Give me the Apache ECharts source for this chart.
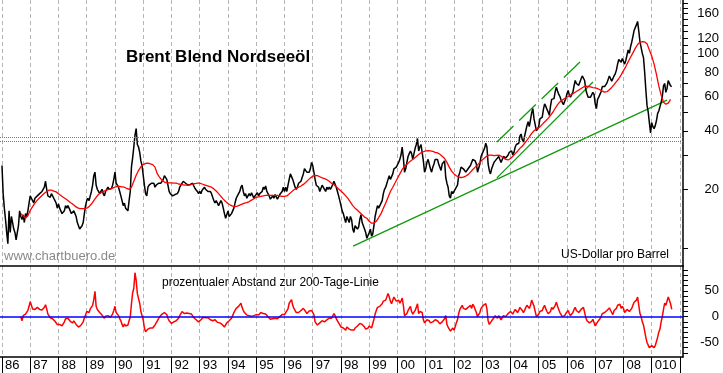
<!DOCTYPE html>
<html><head><meta charset="utf-8">
<script src="https://cdn.jsdelivr.net/npm/echarts@6/dist/echarts.min.js"></script>
<style>html,body{margin:0;padding:0;background:#fff}#c{width:723px;height:373px}</style>
</head><body><div id="c"></div>
<script>
// ---- tick labels ----
const yearTicks = [1986,1987,1988,1989,1990,1991,1992,1993,1994,1995,1996,1997,1998,1999,2000,2001,2002,2003,2004,2005,2006,2007,2008,2009,2010];
const yearLabelYears = [1986,1987,1988,1989,1990,1991,1992,1993,1994,1995,1996,1997,1998,1999,2000,2001,2002,2003,2004,2005,2006,2007,2008,2009];
const yearLabels = ['86','87','88','89','90','91','92','93','94','95','96','97','98','99','00','01','02','03','04','05','06','07','08','010'];
const priceTickValues = [10,20,30,40,50,60,70,80,90,100,110,120,130,140,150,160,170,180];
const priceLabelValues = [20,40,60,80,100,120,160];
const oscTickValues = [-70,-60,-50,-40,-30,-20,-10,0,10,20,30,40,50,60,70,80,90];
const oscLabelValues = [-50,0,50];

// ---- Brent price, USD/barrel, two readings per month ----
const price1986 = [26.5,19,16,14,12,10.5,15.5,12,14.5,13.5,12.5,12,11,10.8,13,15.5,14.5,14,14.8,13.5,15,14.5,15.5,17];
const price1987 = [18.5,18,17.5,17,18,18.3,18.5,18.8,19,18.8,19.5,19.3,20.5,22,20,18.5,18.5,18.2,19,18.5,18,17.5,17,16];
const price1988 = [16.8,16,15.8,15,14.8,15.5,16.5,16,16.5,16,15.5,15,14.8,15.5,15,14.5,13.5,13,12.5,12.3,13,13.5,15,16.5];
const price1989 = [17.5,18,17.5,18.5,19.5,21,23.5,24.5,21,20,19.5,19,19.5,20,19,18.5,19.5,20,20.5,20,19.8,20.2,21,22.5];
const price1990 = [24.5,21.5,21,20.5,19.5,18.5,17.5,16.5,17,16,15.8,15.5,17.5,19.5,26,29,33,38,41,34,33,31,28,26.5];
const price1991 = [26,21,19,18.5,20.5,21,21,21.5,21,21.5,20.5,21,21.5,21.5,22,21.5,22,22.5,23.5,24,22.5,21,19.5,19];
const price1992 = [19,18.5,18.8,18.8,18.5,19,19.5,20.5,21,21.5,22,21.5,21.5,21,21,20.8,21.2,21,21.5,20.8,20.2,19.8,19.5,19];
const price1993 = [19.5,19,19.8,20.2,20.5,20,20,19.5,19.8,19.5,19,18.2,17.5,17,17.5,17,16.5,16.8,17.5,17,16,15,14.2,14.5];
const price1994 = [15.5,14.5,14.5,15,14.8,16,17,18,18.5,19,19.5,20.5,21,19.5,18.5,19,18,18.5,19,18.5,19.2,18.8,18,18.5];
const price1995 = [18.8,19.2,18.5,19,18.8,19.5,20.5,20,20.8,19.5,19,18.5,17.8,18.2,18.5,18,18.8,18.5,17.8,18.2,18.8,19,19.5,20.5];
const price1996 = [19.5,20.5,19.5,21,22.5,24,24.5,22.5,21.5,20.5,20,20.5,21.5,22,22,23,24,25.5,26,24.5,25,24.5,25.5,27.5];
const price1997 = [26.5,24.5,22.5,21,21.5,20.5,19.5,19.8,21,21.5,20,19.5,20.5,20,20.5,20,20.5,20.8,22,21.5,20.5,19.5,18.5,17.5];
const price1998 = [16.5,15.5,15,14.2,13.5,14.5,14,13.5,14.5,14,12.5,12,13,12.8,12.5,12.8,14,14.8,13.5,13,12.5,12,11.2,11];
const price1999 = [12,12.5,11.5,11.8,13,14.5,15.5,16.5,16,16.5,16.8,17.5,19,20,20.5,21.5,22.5,23.5,22.5,22,24,25.5,25,26];
const price2000 = [25.5,27.5,28.5,30,33,29,24.5,25.5,27.5,29.5,30.5,31.5,30.5,28.5,30.5,32.5,34,36.5,31.5,33,34,33.5,28,24.5];
const price2001 = [25.5,27.5,28.5,28,25.5,24.5,26,27,28.5,29,28.5,27,26,25,27,26.5,28,23,21.5,20.5,18.5,18,19.5,19];
const price2002 = [19.5,20,20.5,21,23.5,24.5,26,25.5,25.5,25,24.5,24.5,25.5,26,26.5,27.5,28.5,28.5,28,27,24.5,24,27,29.5];
const price2003 = [30.5,31.5,32.5,34.5,33,27,25,24,25.5,26.5,27.5,28,28.5,28.5,29.5,30,27.5,27,29.5,30,29,29.5,30,31];
const price2004 = [30.5,31.5,30,31,33,34,33.5,34.5,37.5,38.5,36,35,37.5,40,42.5,44.5,42,45.5,49.5,52,46,43,40,40.5];
const price2005 = [42,46,45.5,47,51.5,55,53.5,51.5,50,48,53.5,58,57.5,58.5,63.5,67,64,61.5,60,57.5,56,54.5,56.5,58.5];
const price2006 = [62,64.5,61,59.5,61.5,63,68,72.5,70,69.5,68.5,70,74,76.5,78,72.5,65,62,59.5,59,59.5,60.5,63,61.5];
const price2007 = [55,52,58,59.5,61.5,63.5,67.5,66.5,67.5,69,70.5,72,76.5,77.5,72,70.5,76.5,78.5,82,88,93,94.5,90,94];
const price2008 = [95,88,92,98,104,100,108,114,122,131,133,140,146,130,115,113,100,95,80,65,54,50,44,39];
const price2009 = [44,42,41,42.5,45,49,50.5,51,56,60,68,70,63,66,72.5,71.5,68,67.5];

// ---- 200-day line, one reading per month (from Sep 1986) ----
const ma1986 = [15.0,14.6,14.2,14.6];
const ma1987 = [15.6,16.3,17.0,17.6,18.1,18.6,19.1,19.5,19.8,19.8,19.6,19.4];
const ma1988 = [19.0,18.6,18.2,17.9,17.5,17.1,16.8,16.4,16.1,15.9,15.9,15.9];
const ma1989 = [16.0,16.3,16.8,17.5,18.2,18.8,19.2,19.5,19.7,19.9,20.1,20.3];
const ma1990 = [20.5,20.7,20.7,20.6,20.5,20.2,20.0,20.5,22.0,23.6,25.0,26.1];
const ma1991 = [26.8,27.2,27.3,27.0,26.8,26.0,24.0,23.0,22.3,21.8,21.6,21.6];
const ma1992 = [21.6,21.5,21.5,21.3,21.2,21.1,21.0,21.0,21.1,21.3,21.4,21.5];
const ma1993 = [21.5,21.3,21.1,20.9,20.7,20.5,20.1,19.6,19.0,18.4,17.8,17.3];
const ma1994 = [16.9,16.6,16.4,16.3,16.4,16.6,16.8,17.0,17.1,17.3,17.6,17.9];
const ma1995 = [18.2,18.3,18.4,18.5,18.6,18.6,18.6,18.6,18.6,18.6,18.5,18.4];
const ma1996 = [18.4,18.5,18.9,19.4,19.9,20.2,20.5,20.8,21.2,21.7,22.3,22.9];
const ma1997 = [23.3,23.6,23.5,23.2,22.9,22.7,22.4,22.0,21.5,21.1,20.6,20.1];
const ma1998 = [19.6,19.1,18.5,17.9,17.2,16.5,16.0,15.6,15.2,14.8,14.4,14.2];
const ma1999 = [13.7,13.4,13.4,13.7,14.3,15.0,16.0,17.0,18.2,19.5,20.5,21.6];
const ma2000 = [22.8,24.0,25.3,26.2,26.9,27.6,28.2,28.8,29.5,30.2,30.8,31.2];
const ma2001 = [31.5,31.6,31.5,31.3,31.0,30.8,30.3,29.6,28.8,27.5,26.0,24.8];
const ma2002 = [24.0,23.5,23.1,23.0,23.1,23.4,23.8,24.5,25.3,26.0,26.7,27.5];
const ma2003 = [28.3,29.0,29.7,30.0,30.0,29.8,29.9,30.0,29.6,29.0,28.5,28.3];
const ma2004 = [28.8,29.6,30.5,31.4,32.5,33.3,34.5,35.8,37.2,38.8,40.0,40.8];
const ma2005 = [41.5,42.5,43.8,45.0,46.3,48.0,49.8,52.2,54.5,56.3,57.5,58.6];
const ma2006 = [59.5,60.5,61.5,62.5,63.6,64.8,66.0,67.2,67.8,67.6,67.2,66.7];
const ma2007 = [66.5,65.8,65.0,64.0,63.2,63.5,65.0,66.8,69.0,71.5,74.0,77.5];
const ma2008 = [81.5,85.5,90.5,95.5,100.5,106.0,111.0,114.0,114.8,114.5,112.0,104.0];
const ma2009 = [97,88,78,68,61,56,54.8,55.5,58];

// ---- % distance to the 200-day line, two readings per month (from Sep 1986) ----
const osc1986 = [0,-8,2,0,5,3,12,20];
const osc1987 = [29,22,15,13,14,16,18,15,14,17,13,16,18,23,15,5,3,-2,0,-4,-6,-9,-12,-15];
const osc1988 = [-12,-15,-13,-18,-16,-10,-4,-7,-3,-6,-9,-12,-12,-8,-10,-15,-18,-20,-22,-17,-15,-10,-2,3];
const osc1989 = [10,13,8,15,16,22,33,49,20,14,12,8,5,3,0,-3,1,3,2,0,-1,2,5,12];
const osc1990 = [20,8,6,2,-4,-8,-15,-20,-14,-18,-20,-16,-8,0,25,46,55,85,70,45,35,26,10,2];
const osc1991 = [-6,-22,-29,-27,-24,-25,-22,-20,-22,-19,-16,-12,-8,-5,0,3,5,3,8,10,4,-3,-8,-10];
const osc1992 = [-13,-12,-10,-12,-8,-5,-3,2,6,10,8,6,9,7,10,6,8,5,3,-2,-5,-6,-8,-10];
const osc1993 = [-8,-6,-3,-1,0,-2,-4,-2,-3,-6,-5,-8,-10,-6,-8,-11,-9,-12,-10,-15,-18,-20,-16,-12];
const osc1994 = [-10,-8,-6,-3,2,8,12,16,14,20,22,26,18,12,8,6,3,5,2,0,1,3,2,3];
const osc1995 = [4,6,3,5,8,10,6,3,5,2,0,-3,-5,-2,-4,-6,-3,-5,-4,-1,0,2,4,6];
const osc1996 = [4,8,10,15,26,28,33,22,16,12,8,6,8,10,12,14,16,14,10,6,8,11,13,12];
const osc1997 = [13,4,-10,-12,-16,-14,-12,-10,-8,-10,-10,-8,-6,-4,-3,-2,-3,0,6,2,-4,-8,-12,-16];
const osc1998 = [-20,-18,-22,-24,-26,-20,-22,-24,-22,-26,-29,-26,-22,-20,-18,-16,-13,-10,-15,-18,-20,-24,-26,-22];
const osc1999 = [-18,-15,-22,-20,-5,5,12,18,15,20,22,25,30,28,32,35,45,38,30,25,32,38,35,30];
const osc2000 = [28,32,26,30,36,22,2,0,6,12,15,20,10,5,8,12,18,25,6,10,12,8,-6,-12];
const osc2001 = [-10,-6,-4,-8,-12,-15,-10,-8,-6,-4,-8,-10,-14,-12,-10,-8,-4,2,-15,-20,-24,-28,-30,-22];
const osc2002 = [-26,-20,-12,-6,6,14,18,22,16,18,14,15,18,20,22,16,24,20,14,8,0,-3,8,16];
const osc2003 = [18,22,20,25,15,-8,-15,-12,-8,-5,-2,2,0,-3,2,5,-6,-4,2,5,0,3,6,8];
const osc2004 = [10,8,5,10,14,12,8,12,18,20,12,8,12,18,22,25,16,22,32,35,20,10,0,2];
const osc2005 = [5,10,8,12,18,22,15,10,6,4,10,18,14,16,22,28,20,14,8,4,0,-2,2,6];
const osc2006 = [8,12,6,2,4,8,14,18,12,10,8,10,14,16,18,8,-2,-8,-10,-12,-11,-9,-5,-8];
const osc2007 = [-18,-20,-10,-8,-4,0,6,5,8,10,12,13,17,18,8,4,12,14,16,22,25,24,16,20];
const osc2008 = [16,8,10,14,16,10,12,16,22,28,28,32,38,22,6,0,-10,-16,-28,-40,-50,-55,-60,-63];
const osc2009 = [-56,-58,-60,-56,-48,-40,-30,-24,-10,0,14,26,22,30,38,32,25,14];

// ---- drawn trend lines: [year, price] end points ----
const trendLong = [[1998.43, 10.2], [2009.54, 57.5]];
const trendSteep = [[2003.52, 22.9], [2006.92, 71.2]];
const trendUpper = [[2003.52, 35.0], [2006.46, 90.2]];
const resistanceLevels = [36.9, 35.3];

// ---- build series points ----
const years = [1986,1987,1988,1989,1990,1991,1992,1993,1994,1995,1996,1997,1998,1999,2000,2001,2002,2003,2004,2005,2006,2007,2008,2009];
const priceYears = [price1986,price1987,price1988,price1989,price1990,price1991,price1992,price1993,price1994,price1995,price1996,price1997,price1998,price1999,price2000,price2001,price2002,price2003,price2004,price2005,price2006,price2007,price2008,price2009];
const maYears = [ma1986,ma1987,ma1988,ma1989,ma1990,ma1991,ma1992,ma1993,ma1994,ma1995,ma1996,ma1997,ma1998,ma1999,ma2000,ma2001,ma2002,ma2003,ma2004,ma2005,ma2006,ma2007,ma2008,ma2009];
const oscYears = [osc1986,osc1987,osc1988,osc1989,osc1990,osc1991,osc1992,osc1993,osc1994,osc1995,osc1996,osc1997,osc1998,osc1999,osc2000,osc2001,osc2002,osc2003,osc2004,osc2005,osc2006,osc2007,osc2008,osc2009];

function build(list, perYear, firstOffset) {
  const out = [];
  list.forEach((arr, i) => {
    const off = i === 0 ? firstOffset : 0;
    arr.forEach((v, j) => out.push([years[i] + (off + j) / perYear, v]));
  });
  return out;
}
const pricePts = build(priceYears, 24, 0);
const maPts = build(maYears, 12, 8);
const oscPts = build(oscYears, 24, 16);

const XMIN = 1985.93, XMAX = 2010.107;
const FONT = "'Liberation Sans', Arial, sans-serif";

const chart = echarts.init(document.getElementById('c'), null, {renderer: 'canvas'});
const xCommon = {
  type: 'value', min: XMIN, max: XMAX,
  splitLine: {show: true, lineStyle: {color: '#b4b4b4', type: [4, 3], width: 1}},
  axisLine: {show: true, onZero: false, lineStyle: {color: '#000', width: 1.5}}
};
chart.setOption({
  animation: false,
  backgroundColor: '#fff',
  title: [
    {text: 'Brent Blend Nordseeöl', left: 126, top: 49, padding: 0,
     textStyle: {fontFamily: FONT, fontSize: 17, fontWeight: 'bold', color: '#000'}},
    {text: 'www.chartbuero.de', left: 4, top: 250, padding: 0,
     textStyle: {fontFamily: FONT, fontSize: 13, fontWeight: 'normal', color: '#8a8a8a'}},
    {text: 'US-Dollar pro Barrel', right: 54, top: 249, padding: 0,
     textStyle: {fontFamily: FONT, fontSize: 12, fontWeight: 'normal', color: '#000'}},
    {text: 'prozentualer Abstand zur 200-Tage-Linie', left: 162, top: 277, padding: 0,
     textStyle: {fontFamily: FONT, fontSize: 12, fontWeight: 'normal', color: '#000'}}
  ],
  grid: [
    {left: 0, right: 40, top: 0, height: 266},
    {left: 0, right: 40, top: 266, height: 91}
  ],
  xAxis: [
    Object.assign({}, xCommon, {gridIndex: 0,
      axisTick: {show: false, customValues: yearTicks},
      axisLabel: {show: false}}),
    Object.assign({}, xCommon, {gridIndex: 1,
      axisTick: {show: true, length: 16, customValues: yearTicks, lineStyle: {color: '#000', width: 1}},
      axisLabel: {show: true, customValues: yearLabelYears, align: 'left', margin: 2, padding: [0, 0, 0, 3],
        fontFamily: FONT, fontSize: 13, color: '#000',
        formatter: v => yearLabels[Math.round(v) - 1986] || ''}})
  ],
  yAxis: [
    {gridIndex: 0, type: 'log', logBase: 10, min: 8.07, max: 188, position: 'right',
     axisLine: {show: true, lineStyle: {color: '#000', width: 1.5}},
     axisTick: {show: true, length: 5, customValues: priceTickValues, lineStyle: {color: '#000'}},
     axisLabel: {show: true, customValues: priceLabelValues, align: 'right', margin: 36,
       fontFamily: FONT, fontSize: 13, color: '#000', formatter: v => String(Math.round(v))},
     splitLine: {show: false}},
    {gridIndex: 1, type: 'value', min: -78, max: 98, position: 'right',
     axisLine: {show: true, lineStyle: {color: '#000', width: 1.5}},
     axisTick: {show: true, length: 5, customValues: oscTickValues, lineStyle: {color: '#000'}},
     axisLabel: {show: true, customValues: oscLabelValues, align: 'right', margin: 36,
       fontFamily: FONT, fontSize: 13, color: '#000', formatter: v => String(Math.round(v))},
     splitLine: {show: false}}
  ],
  series: [
    {type: 'line', xAxisIndex: 0, yAxisIndex: 0, data: pricePts, showSymbol: false, symbol: 'none',
     lineStyle: {color: '#000', width: 1.5}, z: 3,
     markLine: {silent: true, symbol: 'none', label: {show: false},
       lineStyle: {color: '#777', type: 'dotted', width: 1},
       data: resistanceLevels.map(v => ({yAxis: v}))}},
    {type: 'line', xAxisIndex: 0, yAxisIndex: 0, data: maPts, showSymbol: false, symbol: 'none', smooth: false,
     lineStyle: {color: '#ff0000', width: 1.3}, z: 4},
    {type: 'line', xAxisIndex: 0, yAxisIndex: 0, data: trendLong, showSymbol: false, symbol: 'none',
     lineStyle: {color: '#109a10', width: 1.3}, z: 2},
    {type: 'line', xAxisIndex: 0, yAxisIndex: 0, data: trendSteep, showSymbol: false, symbol: 'none',
     lineStyle: {color: '#109a10', width: 1.3}, z: 2},
    {type: 'line', xAxisIndex: 0, yAxisIndex: 0, data: trendUpper, showSymbol: false, symbol: 'none',
     lineStyle: {color: '#109a10', width: 1.3, type: [23, 8]}, z: 2},
    {type: 'line', xAxisIndex: 1, yAxisIndex: 1, data: oscPts, showSymbol: false, symbol: 'none',
     lineStyle: {color: '#ff0000', width: 1.5}, z: 4,
     markLine: {silent: true, symbol: 'none', label: {show: false},
       lineStyle: {color: '#0000ff', type: 'solid', width: 1.5},
       data: [{yAxis: 0}]}}
  ]
});
</script>
</body></html>
